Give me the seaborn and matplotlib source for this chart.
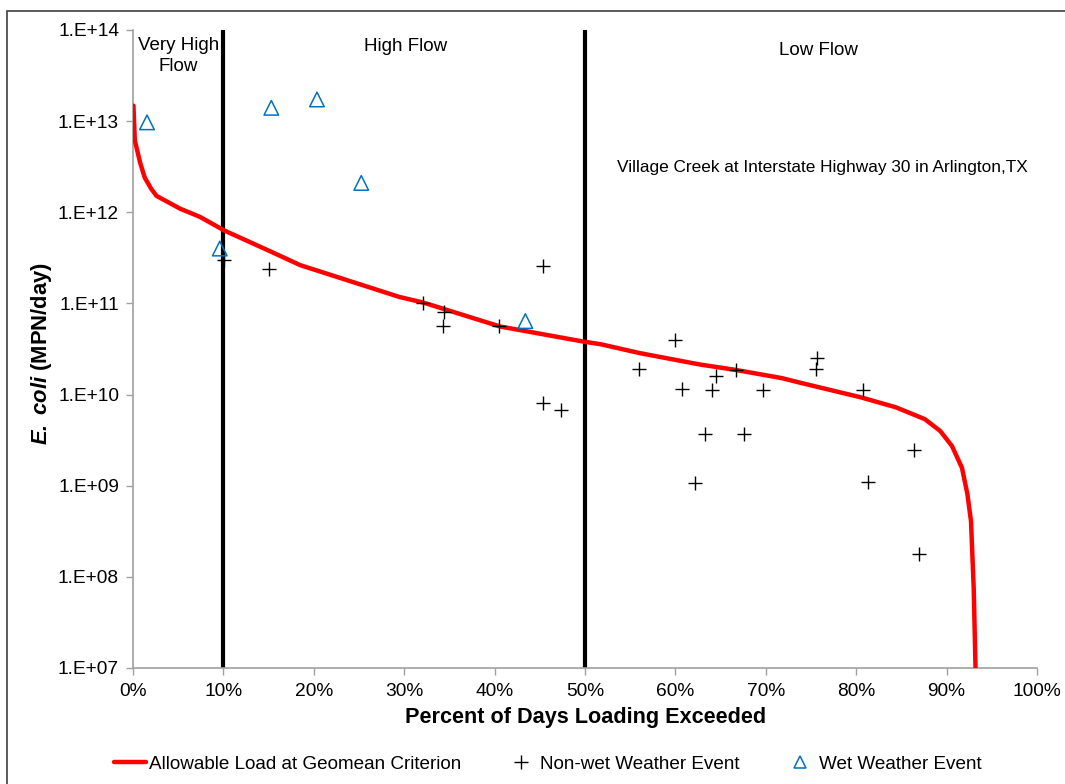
import numpy as np
import pandas as pd
import matplotlib
matplotlib.use("Agg")
import matplotlib.pyplot as plt
import seaborn as sns
from matplotlib.lines import Line2D
from matplotlib.patches import Rectangle

# ---- data ----
curve_pct = [0.05, 0.2, 0.8, 1.3, 2.0, 2.6, 5.2, 7.4, 10.1, 15.0, 18.5, 29.5, 32.1, 40.6,
             49.9, 51.7, 56.1, 62.7, 66.7, 71.8, 73.8, 80.5, 84.4, 87.6, 89.3, 90.6,
             91.7, 92.3, 92.7, 93.0, 93.2]
curve_log = [13.17, 12.79, 12.54, 12.38, 12.26, 12.18, 12.04, 11.95, 11.80, 11.58, 11.42,
             11.07, 11.01, 10.747, 10.58, 10.553, 10.454, 10.33, 10.27, 10.18, 10.13, 9.97,
             9.86, 9.73, 9.60, 9.435, 9.196, 8.91, 8.61, 7.87, 7.0]
curve_load = [10 ** v for v in curve_log]

nonwet_pct = [10.1, 15.0, 32.1, 34.4, 34.3, 40.5, 45.3, 45.4, 47.4, 56.0, 60.0, 60.7, 64.5,
              64.0, 66.7, 69.7, 63.3, 67.6, 62.2, 75.7, 75.5, 80.7, 81.3, 86.4, 87.0]
nonwet_load = [3.0e11, 2.4e11, 1.0e11, 8.1e10, 5.7e10, 5.6e10, 2.55e11, 8.0e9, 6.7e9, 1.9e10,
               4.0e10, 1.16e10, 1.58e10, 1.11e10, 1.86e10, 1.11e10, 3.7e9, 3.7e9, 1.06e9,
               2.5e10, 1.93e10, 1.12e10, 1.1e9, 2.44e9, 1.8e8]

wet_pct = [1.55, 9.6, 15.3, 20.35, 25.25, 43.4]
wet_load = [9.7e12, 4.0e11, 1.4e13, 1.73e13, 2.1e12, 6.4e10]

xticks = [0, 10, 20, 30, 40, 50, 60, 70, 80, 90, 100]
ytick_exp = [7, 8, 9, 10, 11, 12, 13, 14]
zone_bounds = [10, 50]
zone_labels = ["Very High\nFlow", "High Flow", "Low Flow"]
site_label = "Village Creek at Interstate Highway 30 in Arlington,TX"
legend_labels = ["Allowable Load at Geomean Criterion", "Non-wet Weather Event", "Wet Weather Event"]

# ---- style ----
sns.set_style("white")
plt.rcParams['font.family'] = ['Liberation Sans', 'DejaVu Sans']
plt.rcParams['text.color'] = 'black'
plt.rcParams['axes.labelcolor'] = 'black'
plt.rcParams['xtick.color'] = 'black'
plt.rcParams['ytick.color'] = 'black'
plt.rcParams['mathtext.fontset'] = 'custom'
plt.rcParams['mathtext.rm'] = 'Liberation Sans'
plt.rcParams['mathtext.it'] = 'Liberation Sans:italic'
plt.rcParams['mathtext.bf'] = 'Liberation Sans:bold'
plt.rcParams['mathtext.bfit'] = 'Liberation Sans:italic:bold'

fig = plt.figure(figsize=(10.65, 7.84), dpi=100)
ax = fig.add_axes([133 / 1065, 1 - 668 / 784, (1037 - 133) / 1065, (668 - 30) / 784])

df_curve = pd.DataFrame({"pct": curve_pct, "load": curve_load})
df_nw = pd.DataFrame({"pct": nonwet_pct, "load": nonwet_load})
df_w = pd.DataFrame({"pct": wet_pct, "load": wet_load})

for xb in zone_bounds:
    ax.axvline(xb, color="black", lw=3, zorder=2)

sns.lineplot(data=df_curve, x="pct", y="load", ax=ax, color="#FF0000", lw=3.2,
             sort=False, estimator=None, zorder=3)
sns.scatterplot(data=df_nw, x="pct", y="load", ax=ax, marker="+", s=110, color="black",
                linewidth=1.0, zorder=4)
sns.scatterplot(data=df_w, x="pct", y="load", ax=ax, marker="^", s=110, facecolors="none",
                edgecolor="#0070C0", linewidth=1.1, zorder=4)

ax.set_yscale("log")
ax.set_xlim(0, 100)
ax.set_ylim(1e7, 1e14)
ax.set_xticks(xticks)
ax.set_xticklabels([f"{t}%" for t in xticks], fontsize=13.8)
ax.set_yticks([10.0 ** e for e in ytick_exp])
ax.set_yticklabels([f"1.E+{e:02d}" for e in ytick_exp], fontsize=13.8)
ax.minorticks_off()
ax.tick_params(axis="both", direction="out", length=5, width=1, color="#A0A0A0",
               left=True, bottom=True)
ax.tick_params(axis="x", pad=6)
ax.tick_params(axis="y", pad=5)
for s in ["top", "right"]:
    ax.spines[s].set_visible(False)
for s in ["left", "bottom"]:
    ax.spines[s].set_color("#A0A0A0")
    ax.spines[s].set_linewidth(1.2)

ax.set_xlabel("Percent of Days Loading Exceeded", fontsize=15.6, fontweight="bold")
ax.xaxis.set_label_coords((585.5 - 133) / 904, (668 - 707) / 638)
ax.set_ylabel(r"$\mathbfit{E.\ coli}$ (MPN/day)", fontsize=15.8, fontweight="bold")
ax.yaxis.set_label_coords((54 - 133) / 904, (668 - 353) / 638)

ax.text(5.03, 10 ** 13.714, zone_labels[0], ha="center", va="center", fontsize=13.5,
        linespacing=1.35)
ax.text(30.1, 10 ** 13.824, zone_labels[1], ha="center", va="center", fontsize=13.5)
ax.text(75.8, 10 ** 13.78, zone_labels[2], ha="center", va="center", fontsize=13.5)
ax.text(76.3, 10 ** 12.493, site_label, ha="center", va="center", fontsize=12.4)

handles = [Line2D([], [], color="#FF0000", lw=3.2),
           Line2D([], [], color="black", marker="+", ls="none", markersize=10, mew=1.0),
           Line2D([], [], color="#0070C0", marker="^", ls="none", markersize=8,
                  markerfacecolor="none", mew=1.1)]
fig.legend(handles, legend_labels, loc="center", bbox_to_anchor=(547.5 / 1065, 1 - 764 / 784),
           ncol=3, frameon=False, fontsize=13.6, handlelength=1.7, handletextpad=0.16,
           columnspacing=2.33, borderpad=0, borderaxespad=0)

fig.add_artist(Rectangle((7 / 1065, -0.1), 1.2, (784 - 11) / 784 + 0.1,
                         transform=fig.transFigure, fill=False, edgecolor="#404040", lw=1.2,
                         clip_on=False))

fig.savefig("out.png", dpi=100)
